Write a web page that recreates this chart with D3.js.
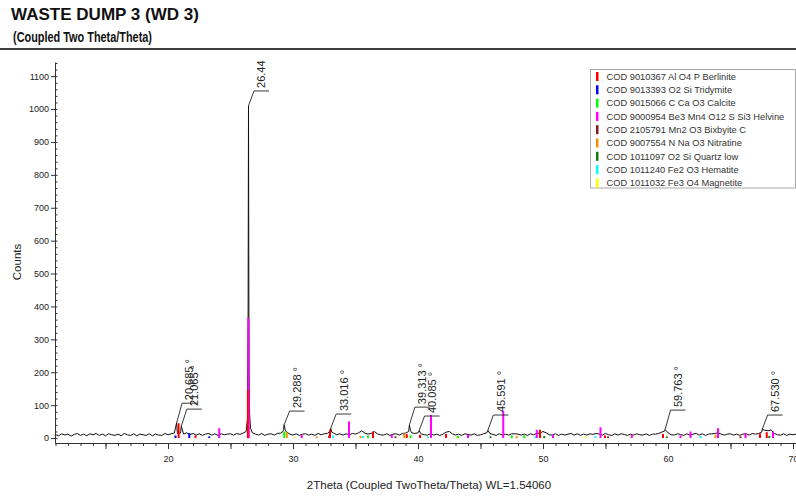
<!DOCTYPE html>
<html><head><meta charset="utf-8">
<script src="https://cdn.jsdelivr.net/npm/d3@7"></script>
<style>body{margin:0;background:#fff}svg{display:block}text{font-family:"Liberation Sans",Arial,sans-serif}</style>
</head><body><svg id="c" width="796" height="498"></svg>
<script>
// ---------- data ----------
const titleLine1 = "WASTE DUMP 3 (WD 3)";
const titleLine2 = "(Coupled Two Theta/Theta)";
const xAxisTitle = "2Theta (Coupled TwoTheta/Theta) WL=1.54060";
const yAxisTitle = "Counts";
const xTickLabels = [20, 30, 40, 50, 60, 70];
const yTickLabels = [0, 100, 200, 300, 400, 500, 600, 700, 800, 900, 1000, 1100];

// measured scan: start angle, step, counts (11.00 .. 70.25)
const scanStart = 11;
const scanStep = 0.25;
const scanCounts = [
  10, 7, 13, 9,   12, 6, 11, 14,   8, 12, 7, 13,   10, 14, 8, 12,   // 11-14
  7, 13, 10, 8,   12, 7, 14, 10,   8, 13, 7, 12,   10, 8, 13, 7,    // 15-18
  12, 9, 8, 14,   10, 13, 15, 14,  15, 12, 16, 11,  14, 9, 13, 8,    // 19-22
  12, 14, 9, 13,  8, 13, 10, 12,   13, 9, 14, 11,  15, 20, 90, 16,  // 23-26
  12, 9, 14, 8,   12, 13, 9, 14,   15, 26, 18, 12,  9, 13, 8, 12,    // 27-30
  13, 9, 12, 8,   14, 10, 13, 14,  22, 15, 10, 13,  9, 13, 10, 14,   // 31-34
  12, 16, 22, 15, 12, 14, 20, 13,  10, 9, 13, 8,    12, 13, 9, 14,   // 35-38
  15, 20, 16, 14, 16, 13, 10, 9,   13, 9, 12, 8,    12, 18, 20, 13,  // 39-42
  9, 12, 8, 13,   11, 9, 13, 8,    10, 13, 16, 14,  11, 8, 13, 9,    // 43-46
  12, 9, 13, 13,  12, 9, 12, 8,    13, 10, 14, 15,  20, 16, 10, 9,   // 47-50
  13, 8, 12, 9,   12, 14, 9, 13,   8, 12, 9, 13,    11, 14, 12, 9,   // 51-54
  14, 10, 8, 13,  9, 13, 11, 8,    12, 9, 13, 10,   9, 13, 8, 12,    // 55-58
  12, 14, 18, 22, 16, 10, 9, 13,   11, 8, 13, 9,    12, 14, 9, 13,   // 59-62
  8, 12, 13, 14,  16, 12, 9, 12,   13, 9, 12, 8,    12, 13, 9, 14,   // 63-66
  12, 14, 18, 24, 22, 25, 14, 10,  9, 13, 8, 12,    10, 12           // 67-70.25
];
// sharp peaks sampled off the regular grid
const peakTheta  = [20.685, 21.065, 26.36, 26.41, 26.44, 26.47, 26.6, 29.2, 29.288, 29.38, 33.016, 33.1, 39.313, 39.4, 40.085, 45.591, 59.763, 67.53];
const peakCounts = [46,     36,     60,    400,   1010,  380,   30,   20,   40,     24,    30,     18,   40,     22,   22,     24,     26,     26];

// reference patterns (2Theta, relative height in counts)
const berliniteSticks = [[20.85, 45], [22.2, 8], [26.44, 146], [32.96, 25], [36.4, 20], [39.1, 12], [40.16, 10], [42.24, 12], [49.76, 25], [54.96, 8], [59.6, 12], [67.36, 15], [67.9, 18]];
const tridymiteSticks = [[20.6, 8], [21.7, 15], [23.3, 5]];
const calciteSticks = [[29.3, 20], [36.0, 8], [39.4, 8], [43.2, 6], [47.5, 8], [48.5, 8]];
const helvineSticks = [[24.1, 30], [26.44, 365], [30.7, 10], [34.48, 50], [37.9, 10], [41.04, 70], [44.0, 10], [46.82, 83], [49.5, 25], [50.8, 10], [54.6, 33], [57.1, 10], [61.0, 8], [61.8, 20], [64.0, 30], [66.2, 15], [68.4, 20]];
const bixbyiteSticks = [[32.9, 8], [38.2, 5], [55.2, 5], [65.8, 5]];
const nitratineSticks = [[29.5, 18], [31.9, 5], [35.4, 6], [38.9, 14], [47.9, 6], [63.8, 10]];
const quartzSticks = [[45.8, 5], [50.1, 6], [59.9, 5], [68.1, 6]];
const hematiteSticks = [[24.1, 5], [33.2, 8], [35.6, 6], [40.8, 5], [49.4, 5], [54.2, 6], [62.6, 6], [64.0, 5]];
const magnetiteSticks = [[30.1, 4], [35.4, 5], [43.1, 4], [53.4, 4], [57.0, 4], [62.6, 4]];

const phaseNames = [
  "COD 9010367 Al O4 P Berlinite",
  "COD 9013393 O2 Si Tridymite",
  "COD 9015066 C Ca O3 Calcite",
  "COD 9000954 Be3 Mn4 O12 S Si3 Helvine",
  "COD 2105791 Mn2 O3 Bixbyite C",
  "COD 9007554 N Na O3 Nitratine",
  "COD 1011097 O2 Si Quartz low",
  "COD 1011240 Fe2 O3 Hematite",
  "COD 1011032 Fe3 O4 Magnetite"
];
const phaseColors = ["#ff0000", "#0000ff", "#00ff00", "#ff00ff", "#8b1a1a", "#ff8c00", "#117a11", "#00ffff", "#ffff00"];
const phaseSticks = [berliniteSticks, tridymiteSticks, calciteSticks, helvineSticks, bixbyiteSticks, nitratineSticks, quartzSticks, hematiteSticks, magnetiteSticks];

// peak labels
const labelTheta = [20.685, 21.065, 26.44, 29.288, 33.016, 39.313, 40.085, 45.591, 59.763, 67.53];
const labelText = ["20.685 °", "21.065 °", "26.44", "29.288 °", "33.016 °", "39.313 °", "40.085 °", "45.591 °", "59.763 °", "67.530 °"];
const labelTopCounts = [46, 36, 1010, 40, 30, 40, 22, 24, 26, 26];
const labelBracketCounts = [106, 88, 1055, 82, 73, 94, 67, 70, 85, 70];

// ---------- drawing ----------
const svg = d3.select("#c");
const x = d3.scaleLinear().domain([10.96, 70.24]).range([55, 796]);
const y = d3.scaleLinear().domain([-15, 1143]).range([443, 62]);

// titles
svg.append("text").attr("x", 11).attr("y", 19.5).attr("font-size", 17).attr("font-weight", "bold")
  .attr("textLength", 188).attr("lengthAdjust", "spacingAndGlyphs").attr("fill", "#111").text(titleLine1);
svg.append("text").attr("x", 13).attr("y", 41.5).attr("font-size", 14.5).attr("font-weight", "bold")
  .attr("textLength", 139).attr("lengthAdjust", "spacingAndGlyphs").attr("fill", "#111").text(titleLine2);
svg.append("line").attr("x1", 0).attr("x2", 796).attr("y1", 49).attr("y2", 49).attr("stroke", "#000").attr("stroke-width", 1.5);

// axes
const axisFont = g => g.selectAll("text").attr("font-size", 9).attr("fill", "#222").attr("font-family", '"Liberation Sans",Arial,sans-serif');
const gx = svg.append("g").attr("transform", "translate(0,443)");
gx.call(d3.axisBottom(x).tickValues(d3.range(11, 71, 1)).tickSize(3).tickSizeOuter(0).tickFormat(""));
gx.append("g").call(d3.axisBottom(x).tickValues(d3.range(15, 71, 5)).tickSize(6).tickSizeOuter(0).tickFormat("")).select(".domain").remove();
gx.append("g").call(d3.axisBottom(x).tickValues(xTickLabels).tickSize(0).tickPadding(13).tickFormat(d3.format("d"))).call(axisFont).select(".domain").remove();

const gy = svg.append("g").attr("transform", "translate(55,0)");
gy.call(d3.axisLeft(y).tickValues(yTickLabels).tickSize(4).tickPadding(2).tickSizeOuter(0).tickFormat(d3.format("d"))).call(axisFont);
gy.append("g").call(d3.axisRight(y).tickValues(d3.range(0, 1141, 20)).tickSize(2.5).tickSizeOuter(0).tickFormat("")).select(".domain").remove();
svg.selectAll(".domain").attr("stroke", "#333");
svg.selectAll(".tick line").attr("stroke", "#333");

// axis titles
svg.append("text").attr("transform", "translate(21,262) rotate(-90)").attr("text-anchor", "middle")
  .attr("font-size", 11.5).attr("fill", "#222").text(yAxisTitle);
svg.append("text").attr("x", 429).attr("y", 489).attr("text-anchor", "middle")
  .attr("font-size", 11.5).attr("fill", "#222").text(xAxisTitle);

// measured data
const scanPoints = scanCounts.map((c, i) => [scanStart + i * scanStep, c])
  .concat(peakTheta.map((t, i) => [t, peakCounts[i]]))
  .sort((a, b) => a[0] - b[0]);
svg.append("path").datum(scanPoints)
  .attr("d", d3.line().x(d => x(d[0])).y(d => y(d[1])))
  .attr("fill", "none").attr("stroke", "#111").attr("stroke-width", 1);

// reference sticks
const stickOrder = [6, 8, 7, 5, 4, 1, 2, 0, 3];
stickOrder.forEach(k => {
  svg.append("g").selectAll("line").data(phaseSticks[k]).join("line")
    .attr("x1", d => x(d[0])).attr("x2", d => x(d[0]))
    .attr("y1", y(0)).attr("y2", d => y(d[1]))
    .attr("stroke", phaseColors[k]).attr("stroke-width", 2);
});
// red berlinite stick drawn beside helvine at main peak
svg.append("line").attr("x1", x(26.44) - 0.8).attr("x2", x(26.44) - 0.8)
  .attr("y1", y(0)).attr("y2", y(berliniteSticks[2][1])).attr("stroke", phaseColors[0]).attr("stroke-width", 1.6);

// peak labels
const lg = svg.append("g");
labelTheta.forEach((t, i) => {
  const px = x(t), py = y(labelTopCounts[i]), by = y(labelBracketCounts[i]);
  const bx0 = px + 5.5, bx1 = bx0 + 15;
  lg.append("path").attr("d", `M${px},${py}L${bx0},${by}L${bx1},${by}`)
    .attr("fill", "none").attr("stroke", "#222").attr("stroke-width", 0.9);
  lg.append("text").attr("transform", `translate(${bx0 + 7.5},${by - 3}) rotate(-90)`)
    .attr("dy", "0.35em").attr("font-size", 11).attr("fill", "#222").text(labelText[i]);
});

// legend
const leg = svg.append("g");
leg.append("rect").attr("x", 590.5).attr("y", 69.5).attr("width", 205).attr("height", 118.5)
  .attr("fill", "#fff").attr("stroke", "#a8a8a8");
phaseNames.forEach((n, i) => {
  const cy = 76.5 + i * 13.3;
  leg.append("rect").attr("x", 596).attr("y", cy - 4.5).attr("width", 2.5).attr("height", 9).attr("fill", phaseColors[i]);
  leg.append("text").attr("x", 606.5).attr("y", cy + 3.3).attr("font-size", 9.3).attr("fill", "#333").text(n);
});
</script></body></html>
